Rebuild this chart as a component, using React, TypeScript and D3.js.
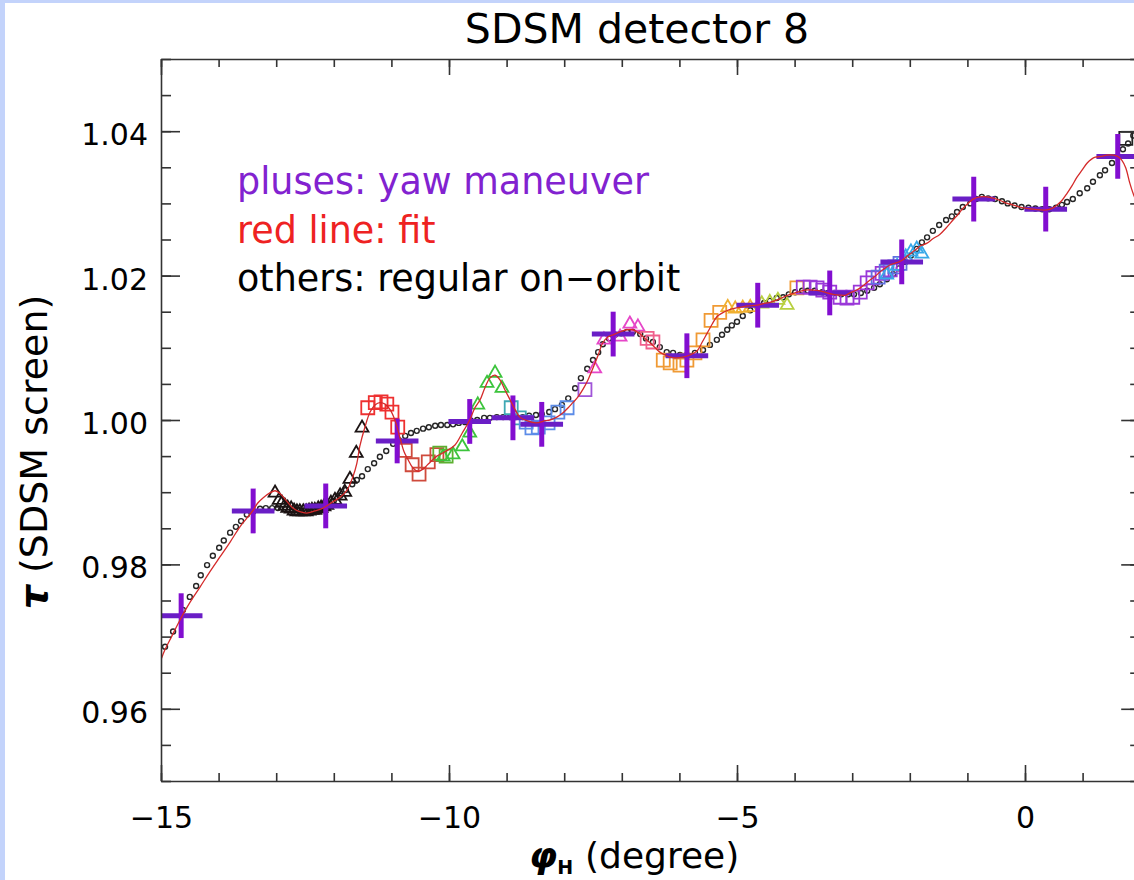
import React, { useEffect, useRef } from 'react';
import * as d3 from 'd3';

type Pt = [number, number];

const TITLE = 'SDSM detector 8';
const X_DOMAIN: [number, number] = [-15, 2];
const Y_DOMAIN: [number, number] = [0.95, 1.05];
const X_MAJOR = [-15, -10, -5, 0];
const Y_MAJOR = [0.96, 0.98, 1.0, 1.02, 1.04];
const LEGEND_LINES = ['pluses: yaw maneuver', 'red line: fit', 'others: regular on\u2212orbit'];

// yaw maneuver (pluses) with horizontal / vertical half-widths
const yawManeuver: Pt[] = [
  [-14.65, 0.9729], [-13.40, 0.9874], [-12.14, 0.9881], [-10.90, 0.9971],
  [-9.64, 0.9998], [-8.89, 1.0003], [-8.39, 0.9994], [-7.15, 1.0119],
  [-5.87, 1.0089], [-4.64, 1.0159], [-3.39, 1.0176], [-2.14, 1.0219],
  [-0.89, 1.0306], [0.36, 1.0292], [1.61, 1.0365],
];
const YAW_XERR = 0.37;
const YAW_YERR = 0.0031;

// regular on-orbit (small circles)
const regularOnOrbit: Pt[] = [
  [-14.93,0.9686],[-14.79,0.9707],[-14.62,0.9737],[-14.50,0.9755],[-14.39,0.9770],[-14.31,0.9785],[-14.20,0.9799],[-14.10,0.9812],[-13.99,0.9823],[-13.91,0.9833],[-13.80,0.9844],[-13.70,0.9852],[-13.61,0.9860],[-13.51,0.9869],[-13.40,0.9873],[-13.28,0.9877],[-13.18,0.9878],[-13.07,0.9878],[-12.97,0.9878],[-12.85,0.9877],[-12.73,0.9875],[-12.60,0.9875],[-12.48,0.9875],[-12.36,0.9878],[-12.24,0.9880],[-12.12,0.9882],[-12.00,0.9888],[-11.89,0.9895],[-11.79,0.9903],[-11.68,0.9911],[-11.60,0.9917],[-11.51,0.9922],[-11.41,0.9932],[-11.30,0.9940],[-11.20,0.9949],[-11.09,0.9957],[-10.97,0.9967],[-10.87,0.9972],[-10.76,0.9978],[-10.66,0.9982],[-10.56,0.9985],[-10.45,0.9988],[-10.35,0.9990],[-10.24,0.9992],[-10.14,0.9993],[-10.03,0.9993],[-9.93,0.9994],[-9.83,0.9996],[-9.72,0.9997],[-9.62,0.9999],[-9.51,1.0000],[-9.39,1.0003],[-9.29,1.0003],[-9.17,1.0004],[-9.06,1.0004],[-8.94,1.0004],[-8.84,1.0004],[-8.72,1.0004],[-8.61,1.0006],[-8.49,1.0007],[-8.39,1.0008],[-8.26,1.0011],[-8.16,1.0015],[-8.04,1.0021],[-7.93,1.0030],[-7.81,1.0044],[-7.71,1.0058],[-7.60,1.0071],[-7.50,1.0083],[-7.41,1.0094],[-7.33,1.0105],[-7.22,1.0113],[-7.12,1.0118],[-7.01,1.0120],[-6.91,1.0122],[-6.81,1.0122],[-6.68,1.0119],[-6.58,1.0113],[-6.46,1.0108],[-6.34,1.0101],[-6.22,1.0094],[-6.11,1.0093],[-5.99,1.0090],[-5.87,1.0090],[-5.73,1.0093],[-5.59,1.0097],[-5.47,1.0104],[-5.35,1.0111],[-5.26,1.0118],[-5.17,1.0125],[-5.09,1.0131],[-5.00,1.0136],[-4.90,1.0144],[-4.77,1.0152],[-4.64,1.0159],[-4.53,1.0162],[-4.43,1.0165],[-4.31,1.0169],[-4.20,1.0170],[-4.10,1.0174],[-3.99,1.0177],[-3.87,1.0179],[-3.77,1.0179],[-3.65,1.0179],[-3.52,1.0177],[-3.42,1.0176],[-3.30,1.0176],[-3.19,1.0174],[-3.07,1.0174],[-2.97,1.0174],[-2.85,1.0176],[-2.74,1.0179],[-2.62,1.0183],[-2.52,1.0188],[-2.40,1.0195],[-2.29,1.0202],[-2.19,1.0210],[-2.08,1.0219],[-1.98,1.0228],[-1.88,1.0237],[-1.79,1.0246],[-1.70,1.0253],[-1.60,1.0262],[-1.49,1.0270],[-1.37,1.0277],[-1.27,1.0282],[-1.18,1.0288],[-1.08,1.0295],[-0.95,1.0300],[-0.85,1.0306],[-0.75,1.0309],[-0.64,1.0307],[-0.52,1.0306],[-0.40,1.0303],[-0.30,1.0300],[-0.18,1.0297],[-0.06,1.0295],[0.06,1.0294],[0.18,1.0293],[0.30,1.0292],[0.42,1.0292],[0.54,1.0294],[0.64,1.0298],[0.73,1.0302],[0.83,1.0306],[0.95,1.0314],[1.08,1.0321],[1.18,1.0330],[1.30,1.0339],[1.39,1.0346],[1.51,1.0356],[1.61,1.0365],[1.70,1.0375],[1.79,1.0383],[1.88,1.0394],[1.97,1.0404],
];

// fit (red line)
const fitLine: Pt[] = [
  [-15.00,0.9668],[-14.93,0.9682],[-14.81,0.9701],[-14.67,0.9723],[-14.50,0.9747],[-14.32,0.9769],[-14.15,0.9790],[-13.98,0.9810],[-13.80,0.9831],[-13.63,0.9852],[-13.51,0.9864],[-13.40,0.9875],[-13.32,0.9885],[-13.23,0.9892],[-13.11,0.9899],[-13.02,0.9902],[-12.93,0.9898],[-12.81,0.9887],[-12.71,0.9878],[-12.59,0.9873],[-12.47,0.9871],[-12.33,0.9874],[-12.19,0.9878],[-12.01,0.9887],[-11.89,0.9893],[-11.77,0.9903],[-11.67,0.9921],[-11.60,0.9940],[-11.55,0.9963],[-11.46,0.9990],[-11.37,1.0011],[-11.28,1.0021],[-11.20,1.0024],[-11.11,1.0022],[-11.02,1.0014],[-10.94,1.0000],[-10.85,0.9975],[-10.78,0.9956],[-10.71,0.9945],[-10.63,0.9934],[-10.54,0.9929],[-10.45,0.9932],[-10.36,0.9939],[-10.21,0.9950],[-10.07,0.9956],[-9.90,0.9965],[-9.77,0.9982],[-9.64,1.0000],[-9.55,1.0017],[-9.46,1.0028],[-9.38,1.0044],[-9.29,1.0058],[-9.20,1.0062],[-9.11,1.0055],[-9.03,1.0042],[-8.94,1.0028],[-8.85,1.0014],[-8.77,1.0004],[-8.65,0.9999],[-8.49,0.9996],[-8.33,0.9999],[-8.25,1.0000],[-8.13,1.0004],[-8.02,1.0010],[-7.93,1.0017],[-7.85,1.0024],[-7.76,1.0032],[-7.67,1.0043],[-7.59,1.0055],[-7.50,1.0072],[-7.41,1.0090],[-7.33,1.0107],[-7.24,1.0115],[-7.15,1.0118],[-7.03,1.0122],[-6.91,1.0125],[-6.81,1.0125],[-6.68,1.0119],[-6.60,1.0113],[-6.51,1.0107],[-6.42,1.0100],[-6.34,1.0094],[-6.25,1.0090],[-6.16,1.0087],[-6.06,1.0086],[-5.94,1.0087],[-5.82,1.0090],[-5.69,1.0096],[-5.61,1.0107],[-5.52,1.0120],[-5.43,1.0133],[-5.35,1.0143],[-5.26,1.0148],[-5.16,1.0152],[-5.03,1.0155],[-4.95,1.0156],[-4.81,1.0158],[-4.65,1.0159],[-4.55,1.0161],[-4.43,1.0163],[-4.31,1.0166],[-4.20,1.0170],[-4.08,1.0174],[-3.96,1.0177],[-3.82,1.0180],[-3.68,1.0180],[-3.56,1.0179],[-3.44,1.0176],[-3.33,1.0174],[-3.21,1.0173],[-3.11,1.0173],[-3.04,1.0176],[-2.95,1.0179],[-2.86,1.0183],[-2.78,1.0188],[-2.69,1.0194],[-2.60,1.0199],[-2.52,1.0205],[-2.43,1.0210],[-2.34,1.0215],[-2.26,1.0217],[-2.14,1.0221],[-2.03,1.0228],[-1.91,1.0235],[-1.82,1.0241],[-1.70,1.0245],[-1.60,1.0251],[-1.48,1.0257],[-1.37,1.0266],[-1.25,1.0277],[-1.16,1.0285],[-1.08,1.0293],[-0.99,1.0300],[-0.90,1.0306],[-0.78,1.0309],[-0.66,1.0309],[-0.54,1.0307],[-0.43,1.0304],[-0.31,1.0300],[-0.21,1.0298],[-0.09,1.0295],[0.03,1.0293],[0.14,1.0292],[0.26,1.0291],[0.38,1.0291],[0.47,1.0293],[0.56,1.0298],[0.64,1.0304],[0.73,1.0314],[0.82,1.0325],[0.90,1.0336],[0.99,1.0346],[1.08,1.0356],[1.15,1.0361],[1.22,1.0364],[1.32,1.0365],[1.42,1.0367],[1.53,1.0367],[1.61,1.0365],[1.68,1.0360],[1.75,1.0349],[1.82,1.0328],[1.89,1.0311],[2.00,1.0292],
];

// coloured on-orbit groups
const blackTriangles: Pt[] = [
  [-13.02,0.9899],[-12.95,0.9889],[-12.90,0.9885],[-12.85,0.9881],[-12.80,0.9878],[-12.74,0.9877],[-12.69,0.9874],[-12.64,0.9873],[-12.59,0.9873],[-12.53,0.9873],[-12.48,0.9873],[-12.43,0.9874],[-12.38,0.9875],[-12.33,0.9875],[-12.27,0.9877],[-12.22,0.9878],[-12.17,0.9880],[-12.12,0.9882],[-12.05,0.9885],[-11.98,0.9889],[-11.89,0.9895],[-11.81,0.9900],[-11.72,0.9918],[-11.61,0.9954],[-11.51,0.9989],
];
const redSquares: Pt[] = [
  [-11.41,1.0017],[-11.28,1.0024],[-11.18,1.0025],[-11.08,1.0022],[-10.99,1.0011],[-10.89,0.9990],
];
const brownRedSquares: Pt[] = [
  [-10.76,0.9958],[-10.64,0.9938],[-10.52,0.9925],[-10.36,0.9942],[-10.21,0.9952],
];
const greenSquares: Pt[] = [[-10.16,0.9954],[-10.05,0.9950]];
const greenTriangles: Pt[] = [
  [-10.10,0.9949],[-9.93,0.9952],[-9.77,0.9963],[-9.64,0.9982],[-9.50,1.0021],[-9.34,1.0051],[-9.20,1.0065],[-9.08,1.0044],
];
const tealSquares: Pt[] = [[-8.92,1.0017],[-8.78,1.0003]];
const blueSquares: Pt[] = [
  [-8.66,0.9997],[-8.56,0.9989],[-8.45,0.9990],[-8.28,0.9996],[-8.11,1.0011],[-7.95,1.0017],
];
const violetSquares: Pt[] = [[-7.64,1.0042]];
const pinkTriangles: Pt[] = [[-7.47,1.0071],[-7.31,1.0111],[-7.03,1.0115],[-6.86,1.0133],[-6.72,1.0129]];
const pinkSquares: Pt[] = [[-6.56,1.0113],[-6.46,1.0108]];
const orangeSquares: Pt[] = [
  [-6.28,1.0083],[-6.16,1.0079],[-5.99,1.0076],[-5.87,1.0083],[-5.73,1.0093],[-5.59,1.0111],[-5.45,1.0138],[-5.30,1.0149],[-3.96,1.0183],
];
const orangeTriangles: Pt[] = [[-5.16,1.0156],[-5.03,1.0154],[-4.90,1.0155],[-4.77,1.0156]];
const yellowTriangles: Pt[] = [[-4.57,1.0161],[-4.43,1.0163],[-4.29,1.0166],[-4.13,1.0159]];
const purpleSquares: Pt[] = [
  [-3.85,1.0184],[-3.73,1.0184],[-3.61,1.0183],[-3.51,1.0180],[-3.39,1.0177],[-3.21,1.0170],[-3.09,1.0169],[-2.99,1.0170],[-2.86,1.0177],[-2.74,1.0190],[-2.64,1.0197],[-2.48,1.0203],[-2.34,1.0208],
];
const slateSquares: Pt[] = [[-2.55,1.0198],[-2.41,1.0206],[-2.26,1.0212],[-2.17,1.0217]];
const cyanTriangles: Pt[] = [[-2.40,1.0201],[-2.22,1.0213],[-2.07,1.0226],[-1.98,1.0233],[-1.88,1.0237],[-1.79,1.0230]];
const blackSquares: Pt[] = [[1.75,1.0390]];

const markerGroups = [
  { data: blackTriangles, shape: 'tri', color: '#1c1414' },
  { data: redSquares, shape: 'sq', color: '#ee3030' },
  { data: brownRedSquares, shape: 'sq', color: '#cf4a3c' },
  { data: greenSquares, shape: 'sq', color: '#5cb030' },
  { data: greenTriangles, shape: 'tri', color: '#3cc43c' },
  { data: tealSquares, shape: 'sq', color: '#3fa8b4' },
  { data: blueSquares, shape: 'sq', color: '#5c8ce8' },
  { data: violetSquares, shape: 'sq', color: '#a055d8' },
  { data: pinkTriangles, shape: 'tri', color: '#e646c8' },
  { data: pinkSquares, shape: 'sq', color: '#f0608c' },
  { data: orangeSquares, shape: 'sq', color: '#f09a34' },
  { data: orangeTriangles, shape: 'tri', color: '#f0b030' },
  { data: yellowTriangles, shape: 'tri', color: '#b8d040' },
  { data: purpleSquares, shape: 'sq', color: '#9a38d8' },
  { data: slateSquares, shape: 'sq', color: '#6070e0' },
  { data: cyanTriangles, shape: 'tri', color: '#38a8e8' },
  { data: blackSquares, shape: 'sq', color: '#222222' },
];

const FONT = "'DejaVu Sans', 'Liberation Sans', sans-serif";

export default function App() {
  const ref = useRef<SVGSVGElement>(null);

  useEffect(() => {
    const W = 1134, H = 880;
    const svg = d3.select(ref.current);
    svg.selectAll('*').remove();

    const left = 161, right = 1140.2, top = 59, bottom = 781;
    const x = d3.scaleLinear().domain(X_DOMAIN).range([left, right]);
    const y = d3.scaleLinear().domain(Y_DOMAIN).range([bottom, top]);

    svg.append('rect').attr('width', W).attr('height', H).attr('fill', '#ffffff');
    svg.append('rect').attr('x', 0).attr('y', 0).attr('width', 5).attr('height', H).attr('fill', '#c3d3fb');
    svg.append('rect').attr('x', 0).attr('y', 0).attr('width', W).attr('height', 3).attr('fill', '#c3d3fb');

    svg.append('defs').append('clipPath').attr('id', 'plotclip')
      .append('rect').attr('x', left).attr('y', top).attr('width', right - left).attr('height', bottom - top);

    const plot = svg.append('g').attr('clip-path', 'url(#plotclip)');

    // regular on-orbit circles
    plot.append('g').selectAll('circle').data(regularOnOrbit).join('circle')
      .attr('cx', d => x(d[0])).attr('cy', d => y(d[1])).attr('r', 2.5)
      .attr('fill', 'none').attr('stroke', '#262626').attr('stroke-width', 1.4);

    // coloured groups
    const triSym = d3.symbol().type(d3.symbolTriangle).size(72);
    const sqSym = d3.symbol().type(d3.symbolSquare).size(169);
    markerGroups.forEach(g => {
      plot.append('g').selectAll('path').data(g.data).join('path')
        .attr('d', (g.shape === 'tri' ? triSym : sqSym) as any)
        .attr('transform', d => `translate(${x(d[0])},${y(d[1])})`)
        .attr('fill', 'none').attr('stroke', g.color).attr('stroke-width', 1.8);
    });

    // yaw maneuver pluses
    const pg = plot.append('g');
    pg.selectAll('line.h').data(yawManeuver).join('line').attr('class', 'h')
      .attr('x1', d => x(d[0] - YAW_XERR)).attr('x2', d => x(d[0] + YAW_XERR))
      .attr('y1', d => y(d[1])).attr('y2', d => y(d[1]))
      .attr('stroke', '#6a1ec6').attr('stroke-width', 5);
    pg.selectAll('line.v').data(yawManeuver).join('line').attr('class', 'v')
      .attr('x1', d => x(d[0])).attr('x2', d => x(d[0]))
      .attr('y1', d => y(d[1] - YAW_YERR)).attr('y2', d => y(d[1] + YAW_YERR))
      .attr('stroke', '#820ed0').attr('stroke-width', 5);

    // fit line
    const line = d3.line<Pt>().x(d => x(d[0])).y(d => y(d[1])).curve(d3.curveCatmullRom.alpha(0.5));
    plot.append('path').datum(fitLine).attr('d', line as any)
      .attr('fill', 'none').attr('stroke', '#d42a2a').attr('stroke-width', 1.3);

    // axes
    const styleAxis = (g: any) => {
      g.selectAll('path').attr('stroke', '#333').attr('stroke-width', 1.6);
      g.selectAll('line').attr('stroke', '#333').attr('stroke-width', 1.6);
      g.selectAll('text').attr('font-family', FONT).attr('font-size', 30).attr('fill', '#000');
      g.attr('font-family', null).attr('font-size', null);
    };
    const xMinor = x.ticks(17);
    const yMinor = d3.range(0, 21).map(i => Y_DOMAIN[0] + i * 0.005);

    const bottomMajor = svg.append('g').attr('transform', `translate(0,${bottom})`)
      .call(d3.axisBottom(x).tickValues(X_MAJOR).tickSize(-16).tickSizeOuter(0).tickPadding(26).tickFormat(d3.format('d') as any));
    styleAxis(bottomMajor);
    const bottomMinor = svg.append('g').attr('transform', `translate(0,${bottom})`)
      .call(d3.axisBottom(x).tickValues(xMinor).tickSize(-8).tickSizeOuter(0).tickFormat(() => ''));
    bottomMinor.select('.domain').remove();
    styleAxis(bottomMinor);

    const topMajor = svg.append('g').attr('transform', `translate(0,${top})`)
      .call(d3.axisTop(x).tickValues(X_MAJOR).tickSize(-16).tickSizeOuter(0).tickFormat(() => ''));
    styleAxis(topMajor);
    const topMinor = svg.append('g').attr('transform', `translate(0,${top})`)
      .call(d3.axisTop(x).tickValues(xMinor).tickSize(-8).tickSizeOuter(0).tickFormat(() => ''));
    topMinor.select('.domain').remove();
    styleAxis(topMinor);

    const leftMajor = svg.append('g').attr('transform', `translate(${left},0)`)
      .call(d3.axisLeft(y).tickValues(Y_MAJOR).tickSize(-19).tickSizeOuter(0).tickPadding(13).tickFormat(d3.format('.2f') as any));
    styleAxis(leftMajor);
    leftMajor.selectAll('text').attr('dy', '0.45em');
    const leftMinor = svg.append('g').attr('transform', `translate(${left},0)`)
      .call(d3.axisLeft(y).tickValues(yMinor).tickSize(-10).tickSizeOuter(0).tickFormat(() => ''));
    leftMinor.select('.domain').remove();
    styleAxis(leftMinor);

    const rightMajor = svg.append('g').attr('transform', `translate(${right},0)`)
      .call(d3.axisRight(y).tickValues(Y_MAJOR).tickSize(-19).tickSizeOuter(0).tickFormat(() => ''));
    styleAxis(rightMajor);
    const rightMinor = svg.append('g').attr('transform', `translate(${right},0)`)
      .call(d3.axisRight(y).tickValues(yMinor).tickSize(-10).tickSizeOuter(0).tickFormat(() => ''));
    rightMinor.select('.domain').remove();
    styleAxis(rightMinor);

    // title
    svg.append('text').attr('x', 637).attr('y', 43).attr('text-anchor', 'middle')
      .attr('font-family', FONT).attr('font-size', 41).attr('fill', '#000').text(TITLE);

    // legend texts
    const legendColors = ['#8222d0', '#ee2222', '#000000'];
    LEGEND_LINES.forEach((t, i) => {
      svg.append('text').attr('x', 237).attr('y', 194 + i * 48.5)
        .attr('font-family', FONT).attr('font-size', 36.5).attr('fill', legendColors[i]).text(t);
    });

    // y label
    const yl = svg.append('text').attr('transform', 'translate(47,452) rotate(-90)')
      .attr('text-anchor', 'middle').attr('font-family', FONT).attr('font-size', 38).attr('fill', '#000');
    yl.append('tspan').attr('font-weight', 'bold').attr('font-style', 'italic').text('\u03c4');
    yl.append('tspan').text(' (SDSM screen)');

    // x label
    const xl = svg.append('text').attr('x', 529).attr('y', 868)
      .attr('font-family', FONT).attr('font-size', 36).attr('fill', '#000');
    xl.append('tspan').attr('font-weight', 'bold').attr('font-style', 'italic').text('\u03c6');
    xl.append('tspan').attr('font-size', 19).attr('font-weight', 'bold').attr('dy', 6).text('H');
    xl.append('tspan').attr('x', 585).attr('dy', -6).text('(degree)');
  }, []);

  return (
    <svg ref={ref} width={1134} height={880}
      style={{ position: 'absolute', left: 0, top: 0, display: 'block' }} />
  );
}
